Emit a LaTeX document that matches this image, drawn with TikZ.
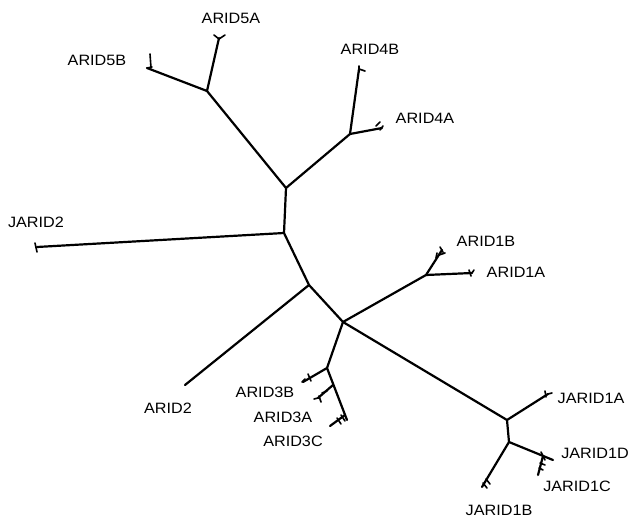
\documentclass[tikz,border=0pt]{standalone}
\usepackage{fontspec}
\setmainfont[FakeStretch=1.08]{Liberation Sans}
\begin{document}
\begin{tikzpicture}[x=1pt,y=-1pt,
  br/.style={line width=2.2pt,line cap=round,line join=round},
  tw/.style={line width=1.6pt,line cap=round},
  lab/.style={inner sep=0pt,font=\fontsize{15}{17}\selectfont}]
\useasboundingbox (0,0) rectangle (631,518);
% internal nodes
\coordinate (n5) at (207,91);
\coordinate (n45) at (286,188);
\coordinate (n4) at (350,134);
\coordinate (n2) at (284,233);
\coordinate (n6) at (309,285);
\coordinate (n7) at (343,322);
\coordinate (n1) at (426,275);
\coordinate (n3) at (327,368);
\coordinate (n3a) at (333,385);
\coordinate (n3c) at (345,415);
\coordinate (n3e) at (347,420);
\coordinate (nJ) at (507,420);
\coordinate (nJb) at (509,442);
\coordinate (nJd) at (543,456);
% tips
\coordinate (t5B) at (147,68);
\coordinate (t5A) at (219,38);
\coordinate (t4B) at (359,69);
\coordinate (t4A) at (382,128);
\coordinate (tJ2) at (37,247);
\coordinate (tA2) at (185,385);
\coordinate (t1B) at (442,250);
\coordinate (t1A) at (472,273);
\coordinate (t3B) at (303,382);
\coordinate (t3A) at (318,398);
\coordinate (t3C) at (330,426);
\coordinate (tJ1A) at (548,394);
\coordinate (tJ1D) at (553,460);
\coordinate (tJ1C) at (538,475);
\coordinate (tJ1B) at (482,487);
% branches
\draw[br] (t5B) -- (n5) -- (n45) -- (n2) -- (n6) -- (n7);
\draw[br] (t5A) -- (n5);
\draw[br] (n45) -- (n4) -- (t4B);
\draw[br] (n4) -- (t4A);
\draw[br] (tJ2) -- (n2);
\draw[br] (n6) -- (tA2);
\draw[br] (n7) -- (n1) -- (t1B);
\draw[br] (n1) -- (t1A);
\draw[br] (n7) -- (n3) -- (n3e);
\draw[br] (n3) -- (t3B);
\draw[br] (n3a) -- (t3A);
\draw[br] (n3c) -- (t3C);
\draw[br] (n7) -- (nJ) -- (tJ1A);
\draw[br] (nJ) -- (nJb) -- (tJ1D);
\draw[br] (nJb) -- (tJ1B);
\draw[br] (nJd) -- (tJ1C);
% terminal twigs
\draw[tw] (150,54) -- (151,68) (147,68) -- (152,67);
\draw[tw] (214,35) -- (219,39) -- (225,35);
\draw[tw] (359,69) -- (365,71) (359,66) -- (359,72);
\draw[tw] (376,126) -- (380,122) (380,130) -- (383,126);
\draw[tw] (35,243) -- (37,252);
\draw[tw] (439,255) -- (445,253) (437,253) -- (436,258) (440,247) -- (443,252);
\draw[tw] (469,270) -- (471,276) (472,273) -- (474,270);
\draw[tw] (308,374) -- (311,381) (302,382) -- (305,379);
\draw[tw] (322,393) -- (327,391) (319,396) -- (321,402) (318,398) -- (314,399);
\draw[tw] (337,418) -- (341,424) (341,415) -- (345,421);
\draw[tw] (545,391) -- (546,397) (548,394) -- (552,393);
\draw[tw] (541,452) -- (545,460) (540,463) -- (545,465) (539,468) -- (543,470);
\draw[tw] (486,479) -- (490,484) (483,483) -- (487,488);
% labels
\node[lab] (l5A) at (231,18) {ARID5A};
\node[lab] (l5B) at (97,60) {ARID5B};
\node[lab] (l4B) at (370,49) {ARID4B};
\node[lab] (l4A) at (425,118) {ARID4A};
\node[lab] (lJ2) at (36,222) {JARID2};
\node[lab] (l1B) at (486,241) {ARID1B};
\node[lab] (l1A) at (516,272) {ARID1A};
\node[lab] (lA2) at (168,408) {ARID2};
\node[lab] (l3B) at (265,392) {ARID3B};
\node[lab] (l3A) at (283,417) {ARID3A};
\node[lab] (l3C) at (293,441) {ARID3C};
\node[lab] (lJ1A) at (591,398) {JARID1A};
\node[lab] (lJ1D) at (595,453) {JARID1D};
\node[lab] (lJ1C) at (577,486) {JARID1C};
\node[lab] (lJ1B) at (499,510) {JARID1B};
\end{tikzpicture}
\end{document}
